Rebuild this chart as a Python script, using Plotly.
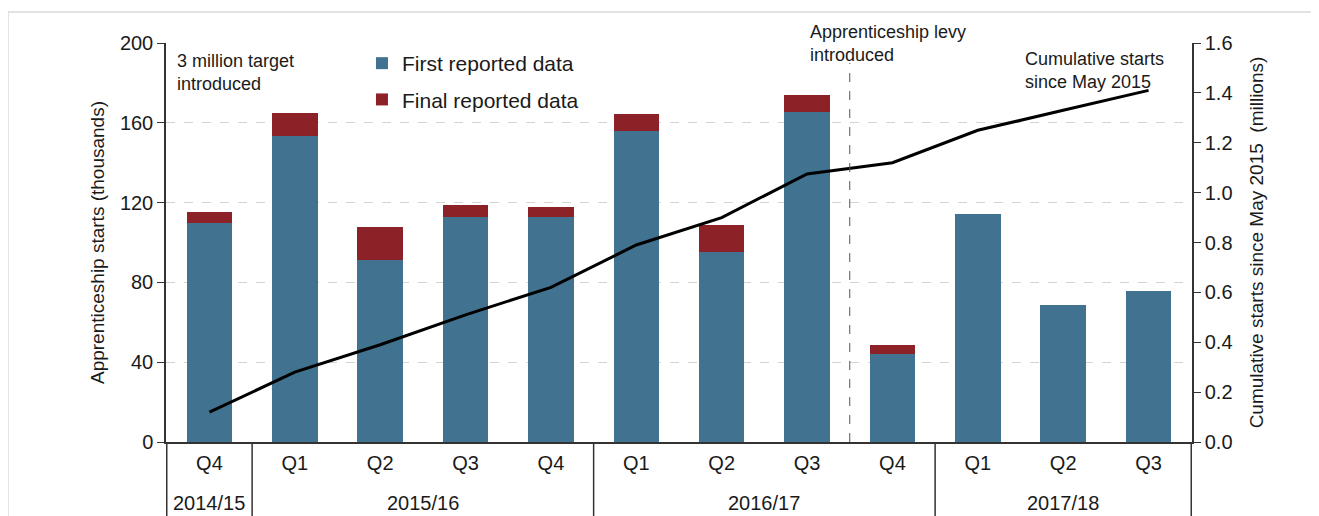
import plotly.graph_objects as go

years = ["2014/15", "2015/16", "2015/16", "2015/16", "2015/16",
         "2016/17", "2016/17", "2016/17", "2016/17",
         "2017/18", "2017/18", "2017/18"]
quarters = ["Q4", "Q1", "Q2", "Q3", "Q4", "Q1", "Q2", "Q3", "Q4", "Q1", "Q2", "Q3"]

first_reported = [110, 153.5, 91, 113, 113, 156, 95, 165.5, 44, 114.5, 68.5, 75.5]
final_reported_total = [115.5, 165, 108, 119, 118, 164.5, 109, 174, 48.5, None, None, None]
final_extra = [(t - f) if t is not None else 0 for t, f in zip(final_reported_total, first_reported)]

cumulative = [0.12, 0.28, 0.39, 0.51, 0.62, 0.79, 0.90, 1.075, 1.12, 1.25, 1.33, 1.41]

levy_after = "Q3 2016/17"  # apprenticeship levy introduced after this quarter

BLUE = "#41728F"
RED = "#8C2128"
FONT = "Liberation Sans"

cats = [f"{q} {y}" for q, y in zip(quarters, years)]

fig = go.Figure()
fig.add_trace(go.Bar(x=cats, y=first_reported, name="First reported data",
                     marker=dict(color=BLUE, line=dict(width=0)), legendgroup="a"))
fig.add_trace(go.Bar(x=cats, y=final_extra, name="Final reported data",
                     marker=dict(color=RED, line=dict(width=0)), legendgroup="b"))
fig.add_trace(go.Scatter(x=cats, y=cumulative, yaxis="y2", mode="lines",
                         line=dict(color="black", width=3), showlegend=False))

fig.update_layout(
    width=1311, height=516,
    margin=dict(l=158, r=127, t=35, b=82),
    paper_bgcolor="white", plot_bgcolor="white",
    barmode="stack", bargap=0.466,
    font=dict(family=FONT, size=20, color="#1a1a1a"),
    showlegend=True,
    legend=dict(x=0.191, y=1.0, xanchor="left", yanchor="top",
                traceorder="grouped", tracegroupgap=6,
                font=dict(size=21), bgcolor="rgba(0,0,0,0)"),
    xaxis=dict(type="category", categoryorder="array", categoryarray=cats,
               tickvals=cats, ticktext=quarters,
               showline=True, linecolor="#333", linewidth=1.5,
               ticks="", ticklabelstandoff=2, tickfont=dict(size=20), showgrid=False),
    yaxis=dict(range=[0, 200], dtick=40, showline=True, linecolor="#333", linewidth=1.5,
               ticks="outside", ticklen=7, tickcolor="#333", tickfont=dict(size=20),
               showgrid=True, gridcolor="#D3D3D3", griddash="dash", gridwidth=1,
               zeroline=False,
               title=dict(text="Apprenticeship starts (thousands)", font=dict(size=19), standoff=10)),
    yaxis2=dict(range=[0, 1.6], dtick=0.2, tickformat=".1f", overlaying="y", side="right",
                showline=True, linecolor="#333", linewidth=1.5, tickfont=dict(size=20),
                ticks="outside", ticklen=7, tickcolor="#333", showgrid=False, zeroline=False,
                title=dict(text="Cumulative starts since May 2015  (millions)", font=dict(size=19), standoff=18)),
)

# year group labels and dividers, derived from the category lists
groups = []
for i, y in enumerate(years):
    if not groups or groups[-1][0] != y:
        groups.append([y, i, i])
    else:
        groups[-1][2] = i
for y, s, e in groups:
    fig.add_annotation(xref="x", yref="paper", x=(s + e) / 2, y=-0.153, yanchor="middle",
                       showarrow=False, text=y, font=dict(size=20))
bounds = [groups[0][1] - 0.5] + [e + 0.5 for _, _, e in groups]
for b in bounds:
    fig.add_shape(type="line", xref="x", yref="paper", x0=b, x1=b, y0=0, y1=-0.3,
                  line=dict(color="#333", width=1.5))

# levy introduction marker
li = cats.index(levy_after) + 0.5
fig.add_shape(type="line", xref="x", yref="y", x0=li, x1=li, y0=0, y1=190,
              line=dict(color="#555", width=1, dash="dash"))

# outer frame (top and left edges only)
fig.add_shape(type="line", xref="paper", yref="paper", x0=-0.154, x1=1.3, y0=1.0777, y1=1.0777,
              line=dict(color="#D9D9D9", width=1.5), layer="below")
fig.add_shape(type="line", xref="paper", yref="paper", x0=-0.154, x1=-0.154, y0=-0.4, y1=1.0777,
              line=dict(color="#D9D9D9", width=1.5), layer="below")

fig.add_annotation(xref="paper", yref="paper", x=0.0088, y=0.985, xanchor="left", yanchor="top",
                   align="left", showarrow=False, text="3 million target<br>introduced",
                   font=dict(size=18))
fig.add_annotation(xref="paper", yref="paper", x=0.626, y=1.058, xanchor="left", yanchor="top",
                   align="left", showarrow=False, text="Apprenticeship levy<br>introduced",
                   font=dict(size=18))
fig.add_annotation(xref="paper", yref="paper", x=0.835, y=0.99, xanchor="left", yanchor="top",
                   align="left", showarrow=False, text="Cumulative starts<br>since May 2015",
                   font=dict(size=18))

fig.write_html("out.html", post_script="document.body.style.overflow='hidden';")
